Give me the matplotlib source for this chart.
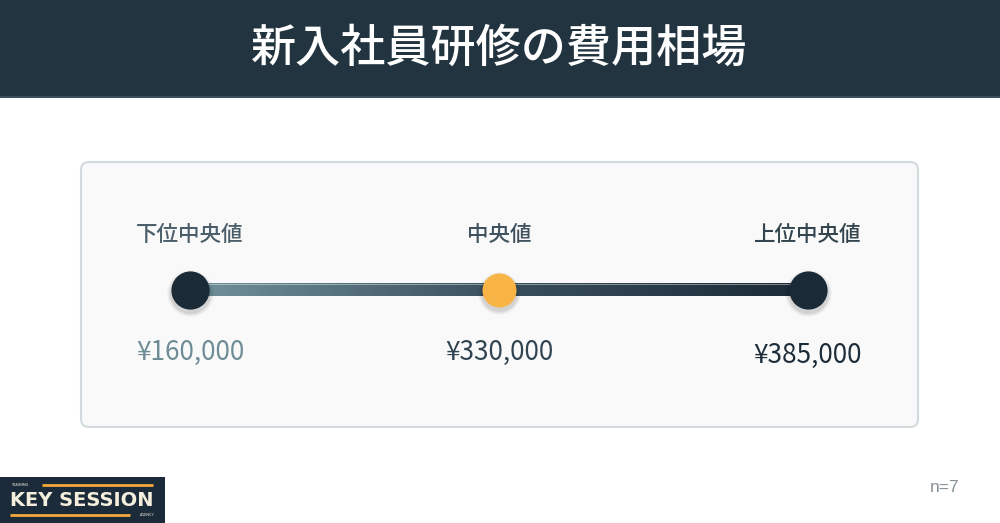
import numpy as np
import matplotlib
matplotlib.use("Agg")
import matplotlib.pyplot as plt
from matplotlib.colors import LinearSegmentedColormap
from matplotlib.patches import FancyBboxPatch, Rectangle

# ---- data ----
title = "新入社員研修の費用相場"
categories = ["下位中央値", "中央値", "上位中央値"]
values = [160000, 330000, 385000]
value_labels = ["¥{:,}".format(v) for v in values]
n_label = "n=7"

# ---- style ----
CJK = ["Noto Sans CJK JP", "DejaVu Sans"]
plt.rcParams["font.family"] = CJK
W, H = 1000, 523
fig = plt.figure(figsize=(W / 100, H / 100), dpi=100)
fig.patch.set_facecolor("white")

# background axes in pixel coordinates for decoration
bg = fig.add_axes([0, 0, 1, 1])
bg.set_xlim(0, W)
bg.set_ylim(H, 0)
bg.axis("off")

# title bar
bg.add_patch(Rectangle((0, 0), W, 97, facecolor="#22343f", edgecolor="none"))
bg.add_patch(Rectangle((0, 96), W, 1.5, facecolor="#3b4f5a", edgecolor="none"))
bg.text(499, 48, title, color="white", fontsize=32.5, fontweight="medium",
        ha="center", va="center", family=CJK)

# panel
bg.add_patch(FancyBboxPatch((81, 162), 837, 265,
                            boxstyle="round,pad=0,rounding_size=8",
                            facecolor="#f9f9f9", edgecolor="#d3dadd", lw=1.5))

# n label
bg.text(945, 488, n_label, color="#85929a", fontsize=12.5, ha="center",
        va="center", family=["Liberation Sans", "DejaVu Sans"])

# logo
bg.add_patch(Rectangle((0, 477), 165, 46, facecolor="#1c2b39", edgecolor="none"))
bg.plot([42, 153], [485, 485], color="#f3a93b", lw=2.0, solid_capstyle="butt")
bg.plot([10, 130], [514.5, 514.5], color="#f3a93b", lw=2.0, solid_capstyle="butt")
bg.text(82, 500, "KEY SESSION", color="#f4eedc", fontsize=14, fontweight="bold",
        ha="center", va="center", family=["DejaVu Sans"])
bg.text(12, 485, "TRAINING", color="#f4eedc", fontsize=2.6, ha="left",
        va="center", family=["Lato", "DejaVu Sans"])
bg.text(155, 514.5, "AGENCY", color="#f4eedc", fontsize=2.6, ha="right",
        va="center", family=["Lato", "DejaVu Sans"])

# ---- chart axes over the panel ----
px0, px1, py0, py1 = 80, 919, 161, 428
ax = fig.add_axes([px0 / W, 1 - py1 / H, (px1 - px0) / W, (py1 - py0) / H])
ax.axis("off")
x_left_px, x_right_px = 190, 808
unit = (x_right_px - x_left_px) / (len(categories) - 1)
xlim = (-(x_left_px - px0) / unit, (len(categories) - 1) + (px1 - x_right_px) / unit)
ax.set_xlim(*xlim)
ax.set_ylim(py1, py0)  # vertical layout in pixels

pos = np.arange(len(categories))
line_y = 290
half_w = 6.5

# gradient line
cmap = LinearSegmentedColormap.from_list(
    "g", [(0, "#71929b"), (0.5, "#3a505d"), (1, "#1b2a37")])
grad = np.linspace(0, 1, 512)[None, :]
ax.imshow(grad, cmap=cmap, aspect="auto", interpolation="bilinear",
          extent=(pos[0], pos[-1], line_y + half_w, line_y - half_w), zorder=2)
ax.plot([pos[0], pos[-1]], [line_y - half_w, line_y - half_w], color="white",
        alpha=0.5, lw=0.6, zorder=2.1)
ax.set_xlim(*xlim)
ax.set_ylim(py1, py0)

dot_colors = ["#1b2a37", "#f8b445", "#1b2a37"]
dot_sizes = [27.5, 24.5, 27.5]
label_colors = ["#4b5e69", "#3f525d", "#34454f"]
value_colors = ["#6d8c95", "#2f4450", "#1c2b38"]
value_dy = [0, 0, 3]

for i, (x, c, s) in enumerate(zip(pos, dot_colors, dot_sizes)):
    # soft shadow
    for k, a in zip([6, 4, 2], [0.04, 0.05, 0.07]):
        ax.plot(x, line_y + 3, "o", ms=s + k, color="black", alpha=a,
                mec="none", clip_on=False, zorder=3)
    ax.plot(x, line_y, "o", ms=s, color=c, mec="none", clip_on=False, zorder=4)
    ax.text(x, 235, categories[i], color=label_colors[i], fontsize=15.5,
            fontweight="medium", ha="center", va="center", family=CJK)
    ax.text(x, 352 + value_dy[i], value_labels[i], color=value_colors[i],
            fontsize=18.8, ha="center", va="center", family=CJK)

fig.savefig("out.png", dpi=100, facecolor="white")
